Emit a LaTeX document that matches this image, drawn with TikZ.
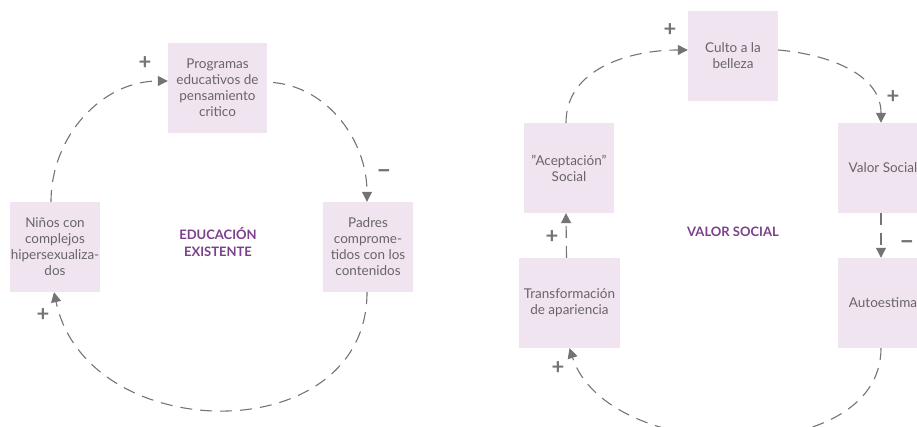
\documentclass[tikz,border=0pt]{standalone}
\usepackage{fontspec}
\setmainfont{Lato}
\newfontfamily\titlefont{Lato}
\usetikzlibrary{arrows.meta}
\definecolor{boxpink}{HTML}{F1E4F1}
\definecolor{loopgray}{HTML}{747474}
\definecolor{textgray}{HTML}{666666}
\definecolor{titlepurple}{HTML}{7B3F8C}
\begin{document}
\begin{tikzpicture}[
    x=1pt, y=1pt,
    factor/.style={rectangle, fill=boxpink, minimum width=90pt, minimum height=90pt, inner sep=1pt, text=textgray, font=\fontsize{13.5}{16}\selectfont, align=center},
    title/.style={font=\titlefont\bfseries\fontsize{13}{17}\selectfont, text=titlepurple, align=center},
    sign/.style={font=\bfseries\fontsize{22}{22}\selectfont, text=loopgray},
    minussign/.style={sign, font=\bfseries\fontsize{26}{26}\selectfont},
    arrow/.style={-{Triangle[length=10pt,width=10pt]}, loopgray, line width=1.1pt, dash pattern=on 12pt off 8pt}
]
\useasboundingbox (0,0) rectangle (917,427);

% Left loop
\node[factor, minimum width=99pt] (programas) at (217.5,339) {Programas\\educativos de\\pensamiento\\critico};
\node[factor] (ninos) at (55,180) {Niños con\\complejos\\hipersexualiza-\\dos};
\node[factor] (padres) at (368,180) {Padres\\comprome-\\tidos con los\\contenidos};
\node[title] (educacion) at (218,185) {EDUCACIÓN\\EXISTENTE};

\draw[arrow] ([xshift=-4pt]ninos.north) to[out=90, in=180] ([yshift=7pt]programas.west);
\draw[arrow, shorten <=6pt] ([yshift=6pt]programas.east) to[out=-5, in=90] ([xshift=-1pt]padres.north);
\draw[arrow] ([xshift=-1pt]padres.south) to[out=-90, in=-78, looseness=1.3] ([xshift=-1pt]ninos.south);

\node[sign] (plus1) at (145,364) {+};
\node[minussign] (minus1) at (384,253) {–};
\node[sign] (plus2) at (43,112) {+};

% Right loop
\node[factor] (culto) at (733,371) {Culto a la\\belleza};
\node[factor] (aceptacion) at (569,259) {"Aceptación"\\Social};
\node[factor, minimum width=101pt] (transformacion) at (569.5,124) {Transformación\\de apariencia};
\node[factor] (valor) at (883,259) {Valor Social};
\node[factor] (autoestima) at (883,124) {Autoestima};
\node[title] (valorsocial) at (733,195) {VALOR SOCIAL};

\draw[arrow] ([xshift=-3pt]aceptacion.north) to[out=90, in=180] ([yshift=6pt]culto.west);
\draw[arrow] ([yshift=6pt]culto.east) to[out=-5, in=90] ([xshift=-2pt]valor.north);
\draw[arrow] ([xshift=-2pt]valor.south) -- ([xshift=-2pt]autoestima.north);
\draw[arrow] ([xshift=-2pt]autoestima.south) to[out=-90, in=-72, looseness=1.0] (transformacion.south);
\draw[arrow] ([xshift=-3pt]transformacion.north) -- ([xshift=-3pt]aceptacion.south);

\node[sign] (plus3) at (670,397) {+};
\node[sign] (plus4) at (893,330) {+};
\node[minussign] (minus2) at (907,182) {–};
\node[sign] (plus5) at (552,190) {+};
\node[sign] (plus6) at (558,59) {+};

\end{tikzpicture}
\end{document}
